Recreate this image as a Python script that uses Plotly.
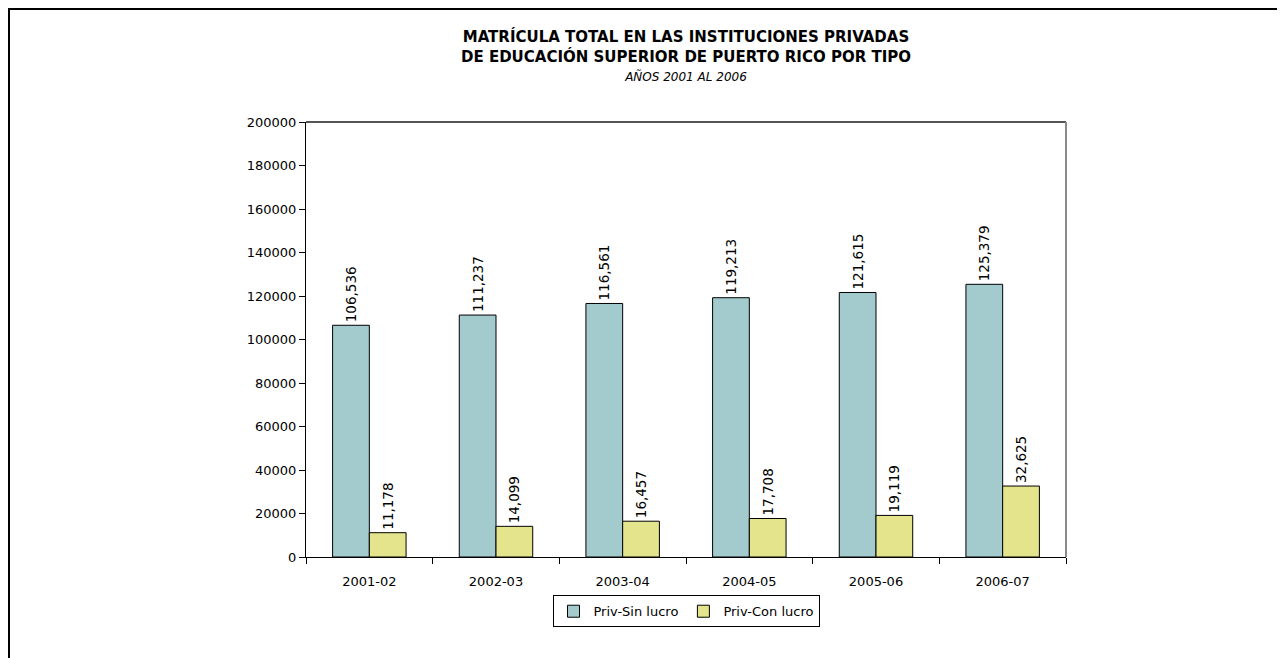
import plotly.graph_objects as go

# Data
years = ["2001-02", "2002-03", "2003-04", "2004-05", "2005-06", "2006-07"]
sin_lucro = [106536, 111237, 116561, 119213, 121615, 125379]
con_lucro = [11178, 14099, 16457, 17708, 19119, 32625]
y_ticks = [0, 20000, 40000, 60000, 80000, 100000, 120000, 140000, 160000, 180000, 200000]

label_font = dict(family="DejaVu Sans, Verdana, sans-serif", size=13.5, color="#000000")

fig = go.Figure()
fig.add_trace(go.Bar(
    x=years, y=sin_lucro, name="Priv-Sin lucro",
    marker=dict(color="#a3cacc", line=dict(color="#000000", width=1)),
    text=[f"{v:,}" for v in sin_lucro], textposition="outside", textangle=-90,
    textfont=label_font, cliponaxis=False, constraintext="none",
))
fig.add_trace(go.Bar(
    x=years, y=con_lucro, name="Priv-Con lucro",
    marker=dict(color="#e4e48c", line=dict(color="#000000", width=1)),
    text=[f"{v:,}" for v in con_lucro], textposition="outside", textangle=-90,
    textfont=label_font, cliponaxis=False, constraintext="none",
))

# page body adds an 8px offset, so the figure is a bit smaller than the window
fig.update_layout(
    width=1277, height=650,
    paper_bgcolor="white", plot_bgcolor="white",
    margin=dict(l=298, r=219, t=114, b=101),
    barmode="group", bargap=0.42, bargroupgap=0,
    font=dict(family="DejaVu Sans, Verdana, sans-serif", size=13, color="#000000"),
    title=dict(
        text="<b>MATRÍCULA TOTAL EN LAS INSTITUCIONES PRIVADAS<br>DE EDUCACIÓN SUPERIOR DE PUERTO RICO POR TIPO</b>"
             "<br><span style='font-size:12px'><i>AÑOS 2001 AL 2006</i></span>",
        x=0.5, xanchor="center", xref="paper", y=0.947, yanchor="top",
        font=dict(family="DejaVu Sans, Verdana, sans-serif", size=15, color="#000000"),
    ),
    showlegend=True,
    legend=dict(
        orientation="h", x=0.5, xanchor="center", xref="paper", y=-0.088, yanchor="top",
        bordercolor="#000000", borderwidth=1, font=dict(size=13),
        itemwidth=30, tracegroupgap=0,
    ),
)

fig.update_yaxes(
    range=[0, 200000], tickvals=y_ticks, ticktext=[str(t) for t in y_ticks],
    showgrid=False, zeroline=False, showline=True, linecolor="#000000", linewidth=1,
    ticks="outside", ticklen=6, tickcolor="#000000", tickfont=dict(size=13),
)
fig.update_xaxes(
    type="category",
    showgrid=False, showline=True, linecolor="#000000", linewidth=1,
    ticks="outside", tickson="boundaries", ticklen=6, tickcolor="#000000",
    tickfont=dict(size=13), ticklabelstandoff=12,
)

# gray plot area border (top and right)
fig.add_shape(type="line", xref="paper", yref="paper", x0=0, x1=1, y0=1, y1=1,
              line=dict(color="#555555", width=2))
fig.add_shape(type="line", xref="paper", yref="paper", x0=1, x1=1, y0=0, y1=1,
              line=dict(color="#8a8a8a", width=2))

# outer chart frame (partly cut off by the window)
fig.add_shape(type="rect", xref="paper", yref="paper",
              x0=-297 / 760, x1=1.5, y0=-0.5, y1=1 + 113 / 435,
              line=dict(color="#000000", width=2), layer="above")

fig.write_html("out.html")
